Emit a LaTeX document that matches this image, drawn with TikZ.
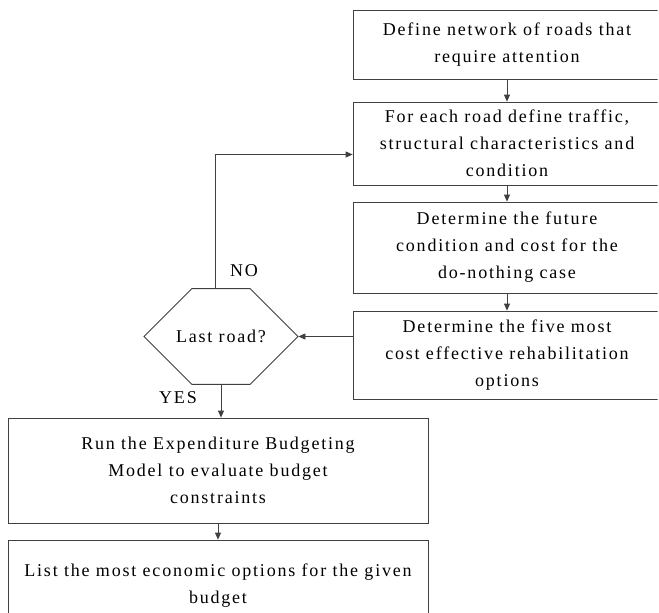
\documentclass[tikz,border=0pt]{standalone}
\usepackage{fontspec}
\setmainfont[LetterSpace=10]{Liberation Serif}
\usetikzlibrary{arrows.meta,shapes.misc,positioning}

\tikzset{
  taskbox/.style={draw=black!75, line width=0.8pt, inner sep=0pt, align=center,
    minimum width=308pt},
  lastbox/.style={draw=black!75, line width=0.8pt, inner sep=0pt, align=center,
    chamfered rectangle, chamfered rectangle xsep=38pt, chamfered rectangle ysep=41.5pt,
    minimum width=154pt, minimum height=83pt},
  flow/.style={draw=black!75, line width=0.8pt, -{Triangle[length=7pt,width=6pt]}}
}

\begin{document}
\begin{tikzpicture}[x=1pt, y=-1pt, font=\fontsize{18}{27}\selectfont]
\useasboundingbox (0,0) rectangle (659,613);
\fill[white] (0,0) rectangle (659,613);
\clip (0,0) rectangle (657.5,613);
% right column
\node[taskbox, minimum height=69pt] (define) at (507, 44.5) {Define network of roads that\\require attention};
\node[taskbox, minimum height=83pt] (road) at (507, 143.5) {For each road define traffic,\\structural characteristics and\\condition};
\node[taskbox, minimum height=91pt] (future) at (507, 247.5) {Determine the future\\condition and cost for the\\do-nothing case};
\node[taskbox, minimum height=88pt] (five) at (507, 355) {Determine the five most\\cost effective rehabilitation\\options};
% decision
\node[lastbox] (last) at (221, 336.5) {Last road?};
% left column
\node[taskbox, minimum width=420pt, minimum height=105pt] (run) at (218, 470.5) {Run the Expenditure Budgeting\\Model to evaluate budget\\constraints};
\node[taskbox, minimum width=420pt, minimum height=92pt] (list) at (218, 586) {List the most economic options for the given\\budget};
\node[] (no) at (244, 271) {NO};
\node[] (yes) at (178, 398) {YES};
% connectors
\draw[flow] (define) -- (road);
\draw[flow] (road) -- (future);
\draw[flow] (future) -- (five);
\draw[flow] (last.east -| five.west) -- (last.east);
\draw[flow] ([xshift=-6pt]last.north) |- ([yshift=-11pt]road.west);
\draw[flow] (last.south) -- (last.south |- run.north);
\draw[flow] (run) -- (list);
\end{tikzpicture}
\end{document}
